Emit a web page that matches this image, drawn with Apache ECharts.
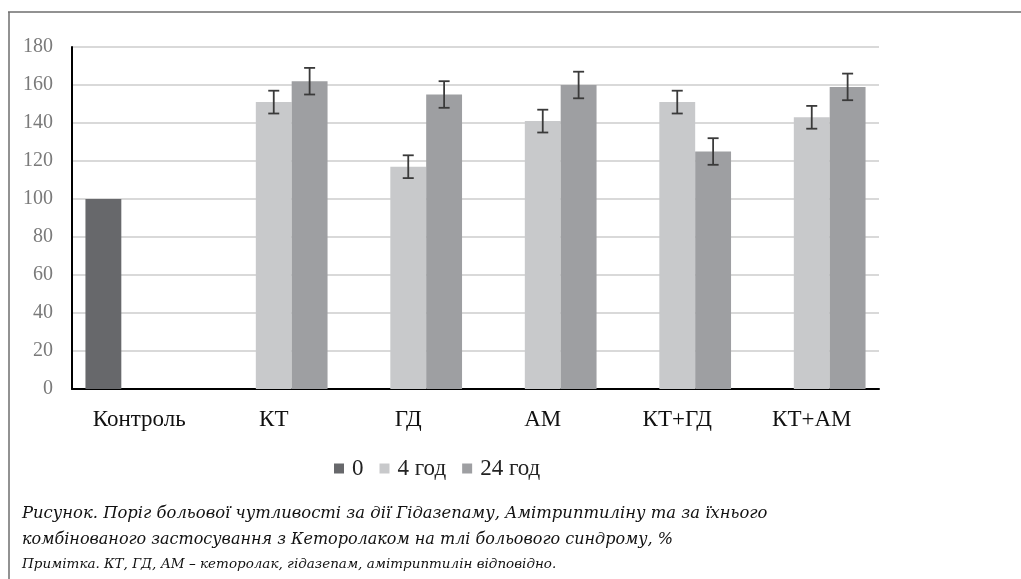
<!DOCTYPE html>
<html>
<head>
<meta charset="utf-8">
<script src="https://cdn.jsdelivr.net/npm/echarts@6/dist/echarts.min.js"></script>
<style>
html,body{margin:0;padding:0;background:#fff;}
#chart{width:1021px;height:579px;}
</style>
</head>
<body>
<div id="chart"></div>
<script>
var categories = ['Контроль', 'КТ', 'ГД', 'АМ', 'КТ+ГД', 'КТ+АМ'];
var seriesNames = ['0', '4 год', '24 год'];
var values0 = [100, null, null, null, null, null];
var values4 = [null, 151, 117, 141, 151, 143];
var values24 = [null, 162, 155, 160, 125, 159];
var err4 = [null, 6, 6, 6, 6, 6];
var err24 = [null, 7, 7, 7, 7, 7];
var yTicks = { min: 0, max: 180, interval: 20 };
var captionLines = [
  'Рисунок. Поріг больової чутливості за дії Гідазепаму, Амітриптиліну та за їхнього',
  'комбінованого застосування з Кеторолаком на тлі больового синдрому, %',
  'Примітка. КТ, ГД, АМ – кеторолак, гідазепам, амітриптилін відповідно.'
];

var colors = ['#67686b', '#c8c9cb', '#9e9fa2'];
var serif = '"Liberation Serif", "DejaVu Serif", serif';

function errData(vals, errs) {
  var out = [];
  for (var i = 0; i < vals.length; i++) {
    if (vals[i] != null && errs[i] != null) out.push([i, vals[i] - errs[i], vals[i] + errs[i]]);
  }
  return out;
}

function makeErrRender(slot) {
  return function (params, api) {
    var ci = api.value(0);
    var lo = api.coord([ci, api.value(1)]);
    var hi = api.coord([ci, api.value(2)]);
    var catW = api.size([1, 0])[0];
    var bw = catW * 0.8 / 3;
    var x = lo[0] + (slot - 1) * bw;
    var cap = 5.5;
    var st = { stroke: '#3a3a3a', lineWidth: 1.8 };
    return {
      type: 'group',
      children: [
        { type: 'line', shape: { x1: x, y1: hi[1], x2: x, y2: lo[1] }, style: st },
        { type: 'line', shape: { x1: x - cap, y1: hi[1], x2: x + cap, y2: hi[1] }, style: st },
        { type: 'line', shape: { x1: x - cap, y1: lo[1], x2: x + cap, y2: lo[1] }, style: st }
      ]
    };
  };
}

var chart = echarts.init(document.getElementById('chart'), null, { renderer: 'canvas' });
function bar(i, vals) {
  return { type: 'bar', name: seriesNames[i], data: vals, barGap: '0%', barCategoryGap: '20%', itemStyle: { color: colors[i] } };
}

var option = {
  animation: false,
  backgroundColor: '#fff',
  grid: { left: 72, right: 142, top: 47, bottom: 190, containLabel: false },
  legend: {
    data: seriesNames,
    left: 329, top: 452,
    icon: 'rect', itemWidth: 10, itemHeight: 10, itemGap: 16,
    textStyle: { fontFamily: serif, fontSize: 23, color: '#222', padding: [0, 0, 0, 3] }
  },
  xAxis: {
    type: 'category', data: categories,
    axisLine: { lineStyle: { color: '#000', width: 2 } },
    axisTick: { show: false },
    axisLabel: { fontFamily: serif, fontSize: 23, color: '#111', margin: 19 }
  },
  yAxis: {
    type: 'value', min: yTicks.min, max: yTicks.max, interval: yTicks.interval,
    axisLine: { show: true, lineStyle: { color: '#000', width: 2 } },
    axisTick: { show: false },
    axisLabel: { fontFamily: serif, fontSize: 20, color: '#7a7a7a', margin: 19 },
    splitLine: { lineStyle: { color: '#d9d9d9', width: 2 } }
  },
  series: [
    bar(0, values0),
    bar(1, values4),
    bar(2, values24),
    { type: 'custom', renderItem: makeErrRender(1), data: errData(values4, err4), encode: { x: 0, y: [1, 2] }, z: 5, silent: true },
    { type: 'custom', renderItem: makeErrRender(2), data: errData(values24, err24), encode: { x: 0, y: [1, 2] }, z: 5, silent: true }
  ],
  graphic: [
    { type: 'line', shape: { x1: 8, y1: 12, x2: 1021, y2: 12 }, style: { stroke: '#6e6e6e', lineWidth: 1.5 } },
    { type: 'line', shape: { x1: 9, y1: 12, x2: 9, y2: 579 }, style: { stroke: '#6e6e6e', lineWidth: 1.5 } },
    { type: 'text', left: 22, top: 506, style: { text: captionLines[0], font: 'italic 16.4px "DejaVu Serif", serif', fill: '#111' } },
    { type: 'text', left: 22, top: 532, style: { text: captionLines[1], font: 'italic 16px "DejaVu Serif", serif', fill: '#111' } },
    { type: 'text', left: 22, top: 557, style: { text: captionLines[2], font: 'italic 13.5px "DejaVu Serif", serif', fill: '#111' } }
  ]
};
chart.setOption(option);
</script>
</body>
</html>
